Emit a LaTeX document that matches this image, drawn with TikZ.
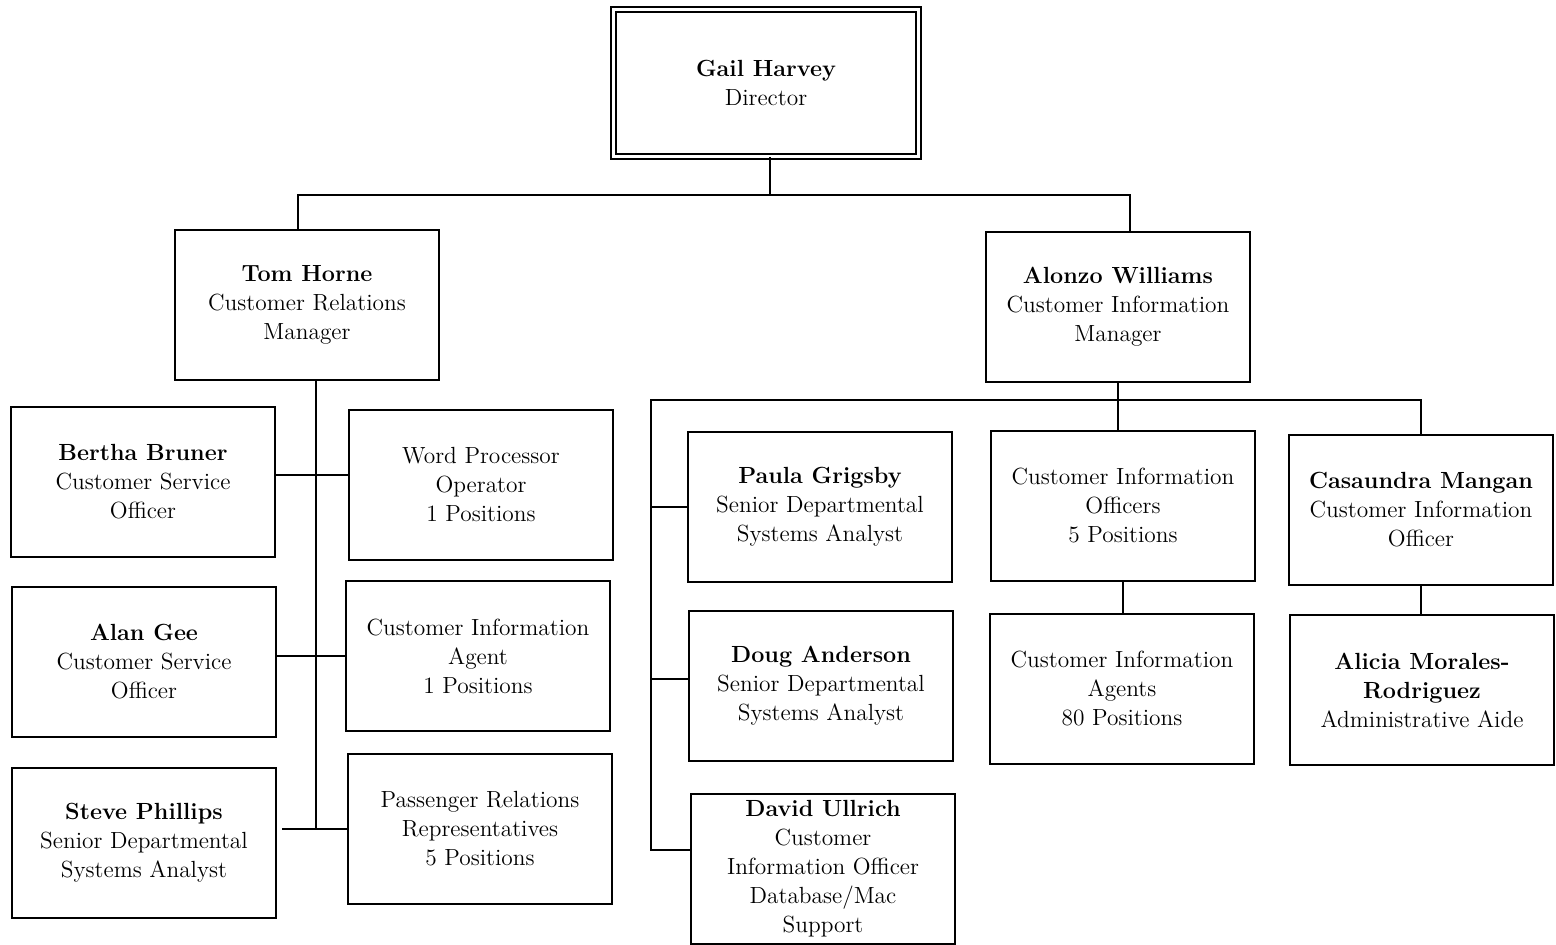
\documentclass[tikz,border=0pt]{standalone}
\usepackage{tikz}
\usetikzlibrary{positioning,calc}

\begin{document}
\begin{tikzpicture}[
  x=0.02cm, y=-0.02cm,
  box/.style={rectangle, draw, line width=1.2pt, align=center, inner sep=2pt,
    minimum width=5.28cm, minimum height=3.0cm, font=\fontsize{13.3}{16.5}\selectfont},
  bossbox/.style={box, double, double distance=0.06cm, line width=1pt,
    minimum width=6.1cm, minimum height=2.94cm},
  link/.style={line width=1.1pt}
]
\useasboundingbox (0,0) rectangle (1556,945);

% top
\node[bossbox] (director) at (766,83) {\textbf{Gail Harvey}\\Director};
\node[box] (horne) at (307,305) {\textbf{Tom Horne}\\Customer Relations\\Manager};
\node[box] (williams) at (1118,307) {\textbf{Alonzo Williams}\\Customer Information\\Manager};

% left branch
\node[box] (bruner) at (143,482) {\textbf{Bertha Bruner}\\Customer Service\\Officer};
\node[box] (wordproc) at (481,485) {Word Processor\\Operator\\1 Positions};
\node[box] (gee) at (144,662) {\textbf{Alan Gee}\\Customer Service\\Officer};
\node[box] (ciagent) at (478,656) {Customer Information\\Agent\\1 Positions};
\node[box] (phillips) at (144,843) {\textbf{Steve Phillips}\\Senior Departmental\\Systems Analyst};
\node[box] (passenger) at (480,829) {Passenger Relations\\Representatives\\5 Positions};

% right branch
\node[box] (grigsby) at (820,507) {\textbf{Paula Grigsby}\\Senior Departmental\\Systems Analyst};
\node[box] (anderson) at (821,686) {\textbf{Doug Anderson}\\Senior Departmental\\Systems Analyst};
\node[box] (ullrich) at (823,869) {\textbf{David Ullrich}\\Customer\\Information Officer\\Database/Mac\\Support};
\node[box] (ciofficers) at (1123,506) {Customer Information\\Officers\\5 Positions};
\node[box] (ciagents) at (1122,689) {Customer Information\\Agents\\80 Positions};
\node[box] (mangan) at (1421,510) {\textbf{Casaundra Mangan}\\Customer Information\\Officer};
\node[box] (morales) at (1422,690) {\textbf{Alicia Morales-}\\\textbf{Rodriguez}\\Administrative Aide};

% top connectors
\coordinate (topbus) at (770,195);
\draw[link] (director.south -| topbus) -- (topbus);
\draw[link] ($(horne.north)+(-9,0)$) |- (topbus) -| ($(williams.north)+(12,0)$);

% left connectors
\coordinate (lspine) at (316,830);
\draw[link] (horne.south -| lspine) -- (lspine);
\draw[link] ($(wordproc.west)+(0,-10)$) -- ($(wordproc.west -| bruner.east)+(0,-10)$);
\draw[link] (ciagent.west) -- (ciagent.west -| gee.east);
\draw[link] (passenger.west) -- ($(passenger.west -| phillips.east)+(5,0)$);

% right connectors
\coordinate (rleft) at (651,400);
\draw[link] (williams.south) -- (williams.south |- ciofficers.north);
\draw[link] ($(ullrich.west)+(0,-19)$) -| (rleft) -| (mangan.north);
\draw[link] (grigsby.west) -- (grigsby.west -| rleft);
\draw[link] ($(anderson.west)+(0,-7)$) -- ($(anderson.west -| rleft)+(0,-7)$);
\draw[link] (ciofficers.south) -- (ciofficers.south |- ciagents.north);
\draw[link] (mangan.south) -- (mangan.south |- morales.north);

\end{tikzpicture}
\end{document}
